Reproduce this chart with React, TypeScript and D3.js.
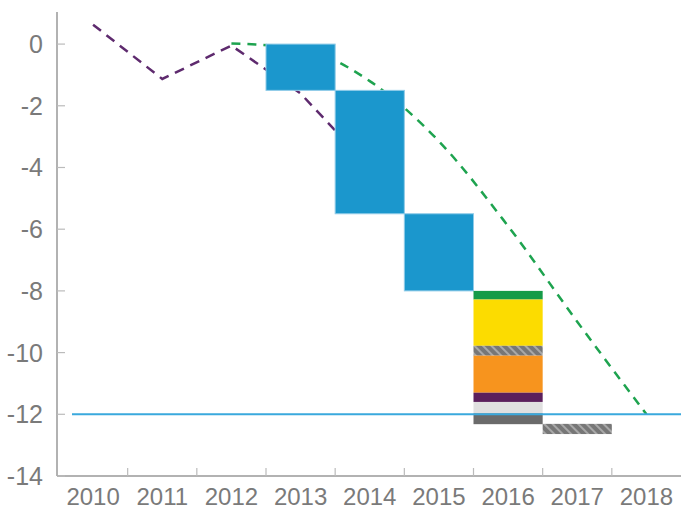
import React from 'react';
import * as d3 from 'd3';

const years = ['2010', '2011', '2012', '2013', '2014', '2015', '2016', '2017', '2018'];
const yTicks = [0, -2, -4, -6, -8, -10, -12, -14];

// Waterfall (blue) bars
const wfYears = ['2013', '2014', '2015'];
const wfTop = [0, -1.5, -5.5];
const wfBottom = [-1.5, -5.5, -8];

// 2016 stacked decomposition
const stackYear = '2016';
const stackTops = [-8, -8.28, -9.78, -10.1, -11.3, -11.6, -11.97];
const stackBottoms = [-8.28, -9.78, -10.1, -11.3, -11.6, -11.97, -12.32];
const stackColors = ['#169b48', '#fcdc00', 'url(#hatch)', '#f7941e', '#5b1f5c', '#e0e0e0', '#6b6b6b'];

// 2017 hatched bar
const extraYear = '2017';
const extraTop = -12.31;
const extraBottom = -12.64;

// Dashed lines
const purpleYears = ['2010', '2011', '2012', '2013', '2014'];
const purpleValues = [0.63, -1.13, -0.05, -1.6, -4.0];
const greenYears = ['2012', '2013', '2014', '2015', '2016', '2017', '2018'];
const greenValues = [0.02, -0.15, -1.2, -3.15, -5.9, -9.0, -12.0];

const targetLevel = -12;

export default function App() {
  const W = 681, H = 510;
  const left = 57, right = 681, top = 12, bottom = 476;
  const x = d3.scaleBand<string>().domain(years).range([left + 1.5, right]).padding(0);
  const y = d3.scaleLinear().domain([-14, 1.04]).range([bottom, top]);
  const bw = x.bandwidth();
  const cx = (yr: string) => (x(yr) as number) + bw / 2;

  const purpleLine = d3.line<number>()
    .x((_, i) => cx(purpleYears[i]))
    .y((d) => y(d))(purpleValues) as string;
  const greenLine = d3.line<number>()
    .x((_, i) => cx(greenYears[i]))
    .y((d) => y(d))
    .curve(d3.curveMonotoneX)(greenValues) as string;

  const font = "'Liberation Sans Narrow', 'Arial Narrow', sans-serif";
  const labelColor = '#7a7a7a';

  return (
    <svg width={W} height={H} style={{ position: 'absolute', left: 0, top: 0 }}>
      <defs>
        <pattern id="hatch" width="6" height="6" patternUnits="userSpaceOnUse" patternTransform="rotate(-45)">
          <rect width="6" height="6" fill="#777" />
          <rect x="0" y="0" width="2" height="6" fill="#a8a8a8" />
        </pattern>
      </defs>
      <rect width={W} height={H} fill="#fff" />

      {/* dashed lines beneath bars */}
      <path d={purpleLine} fill="none" stroke="#5e2a6e" strokeWidth={2.5} strokeDasharray="10,7" />
      <path d={greenLine} fill="none" stroke="#1ea34f" strokeWidth={2.5} strokeDasharray="9,7" />

      {/* waterfall bars */}
      {wfYears.map((yr, i) => (
        <rect key={yr} x={x(yr)} y={y(wfTop[i])} width={bw} height={y(wfBottom[i]) - y(wfTop[i])}
          fill="#1b97cd" stroke="#8fcbe8" strokeWidth={1} />
      ))}

      {/* stacked 2016 */}
      {stackTops.map((t, i) => (
        <rect key={i} x={x(stackYear)} y={y(t)} width={bw} height={y(stackBottoms[i]) - y(t)}
          fill={stackColors[i]} />
      ))}

      {/* 2017 hatched */}
      <rect x={x(extraYear)} y={y(extraTop)} width={bw} height={y(extraBottom) - y(extraTop)} fill="url(#hatch)" />

      {/* target line */}
      <line x1={72} x2={right} y1={y(targetLevel)} y2={y(targetLevel)} stroke="#3aa9dd" strokeWidth={2} />

      {/* axes */}
      <line x1={left} x2={left} y1={top} y2={bottom} stroke="#999" strokeWidth={1.5} />
      <line x1={left} x2={right} y1={bottom} y2={bottom} stroke="#999" strokeWidth={1.5} />
      {yTicks.map((t) => (
        <g key={t}>
          <line x1={left} x2={left + 8} y1={y(t)} y2={y(t)} stroke="#bbb" strokeWidth={1.2} />
          <text x={43} y={y(t)} textAnchor="end" dominantBaseline="central" fontFamily={font}
            fontSize={25} fill={labelColor}>{String(t)}</text>
        </g>
      ))}
      {years.slice(1).map((yr) => (
        <line key={yr} x1={x(yr)} x2={x(yr)} y1={bottom} y2={bottom - 8} stroke="#bbb" strokeWidth={1.2} />
      ))}
      {years.map((yr) => (
        <text key={yr} x={cx(yr)} y={505} textAnchor="middle" fontFamily={font}
          fontSize={24} fill={labelColor}>{yr}</text>
      ))}
    </svg>
  );
}
